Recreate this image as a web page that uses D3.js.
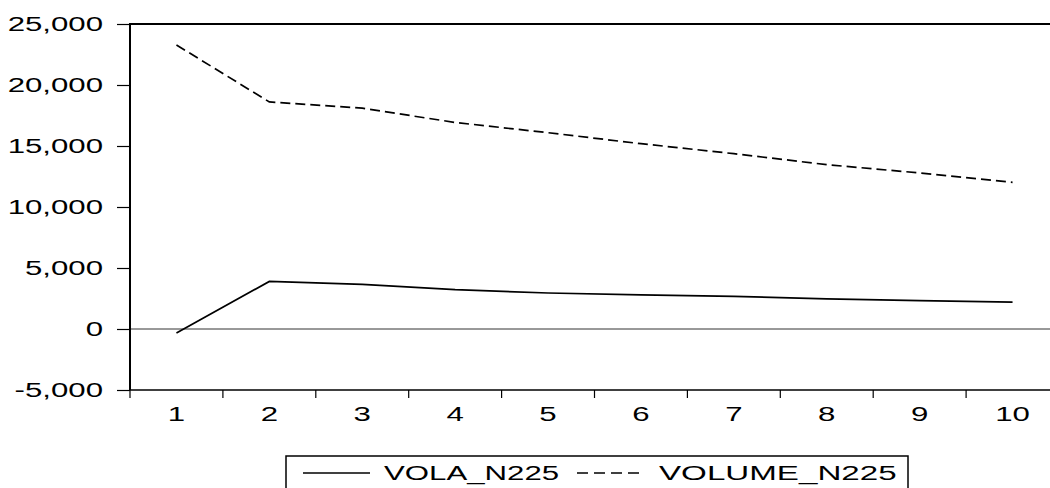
<!DOCTYPE html>
<html>
<head>
<meta charset="utf-8">
<script src="https://cdn.jsdelivr.net/npm/d3@7"></script>
<style>
  html, body { margin: 0; padding: 0; background: #fff; overflow: hidden; }
  svg { display: block; }
  text { font-family: "Liberation Sans", Arial, sans-serif; fill: #000; }
</style>
</head>
<body>
<svg id="chart" width="1050" height="488"></svg>
<script>
// Impulse-response horizons
const periods = [1, 2, 3, 4, 5, 6, 7, 8, 9, 10];
// Response series
const volaN225   = [-330, 3900, 3660, 3220, 2950, 2790, 2670, 2470, 2320, 2210];
const volumeN225 = [23280, 18610, 18100, 16930, 16090, 15190, 14370, 13470, 12790, 12020];
// Vertical axis ticks
const yTicks = [-5000, 0, 5000, 10000, 15000, 20000, 25000];
const seriesNames = ["VOLA_N225", "VOLUME_N225"];

const plot = { left: 130, top: 24, right: 1059, bottom: 390 };
const stretch = 1.6;      // wide lettering
const fontSize = 19.5;

const svg = d3.select("#chart");

const x = d3.scaleBand().domain(periods).range([plot.left, plot.right]).padding(0);
const y = d3.scaleLinear().domain([-5000, 25000]).range([plot.bottom, plot.top]);
// Thousands separator with a plain hyphen for negatives
const fmt = d3.formatLocale({ decimal: ".", thousands: ",", grouping: [3], currency: ["", ""], minus: "-" }).format(",");

// Zero reference line
svg.append("line")
  .attr("x1", plot.left).attr("x2", plot.right)
  .attr("y1", y(0)).attr("y2", y(0))
  .attr("stroke", "#333").attr("stroke-width", 1);

// Y axis
const yAxis = svg.append("g")
  .attr("transform", `translate(${plot.left},0)`)
  .call(d3.axisLeft(y).tickValues(yTicks).tickFormat(fmt).tickSize(13).tickPadding(14));
yAxis.select(".domain").remove();
yAxis.selectAll(".tick line").attr("stroke", "#000").attr("stroke-width", 1.2);
yAxis.selectAll(".tick text")
  .attr("font-size", fontSize)
  .attr("x", -27 / stretch)
  .attr("dy", "0.33em")
  .attr("transform", `scale(${stretch},1)`);

// X axis labels at category centres
const xAxis = svg.append("g")
  .attr("transform", `translate(0,${plot.bottom})`)
  .call(d3.axisBottom(x).tickSize(0).tickPadding(0));
xAxis.select(".domain").remove();
xAxis.selectAll(".tick text")
  .attr("font-size", fontSize)
  .attr("y", 31)
  .attr("dy", 0)
  .attr("transform", `scale(${stretch},1)`);

// X tick marks on category boundaries
svg.append("g").selectAll("line")
  .data(periods)
  .join("line")
  .attr("x1", d => x(d)).attr("x2", d => x(d))
  .attr("y1", plot.bottom).attr("y2", plot.bottom + 8)
  .attr("stroke", "#000").attr("stroke-width", 1.2);

// Frame: top, left, bottom
svg.append("line")
  .attr("x1", plot.left).attr("x2", plot.right)
  .attr("y1", plot.top).attr("y2", plot.top)
  .attr("stroke", "#000").attr("stroke-width", 2);
svg.append("line")
  .attr("x1", plot.left).attr("x2", plot.left)
  .attr("y1", plot.top - 1).attr("y2", plot.bottom)
  .attr("stroke", "#000").attr("stroke-width", 2);
svg.append("line")
  .attr("x1", plot.left).attr("x2", plot.right)
  .attr("y1", plot.bottom).attr("y2", plot.bottom)
  .attr("stroke", "#000").attr("stroke-width", 1.6);

// Series lines
const line = d3.line()
  .x((d, i) => x(periods[i]) + x.bandwidth() / 2)
  .y(d => y(d));

svg.append("path")
  .datum(volaN225)
  .attr("d", line)
  .attr("fill", "none").attr("stroke", "#000").attr("stroke-width", 1.7);

svg.append("path")
  .datum(volumeN225)
  .attr("d", line)
  .attr("fill", "none").attr("stroke", "#000").attr("stroke-width", 1.7)
  .attr("stroke-dasharray", "10,5");

// Legend
const legend = svg.append("g");
legend.append("rect")
  .attr("x", 286).attr("y", 456).attr("width", 622).attr("height", 60)
  .attr("fill", "none").attr("stroke", "#000").attr("stroke-width", 1.5);

const legendItems = [
  { name: seriesNames[0], x1: 303, x2: 370, tx: 384, sx: stretch, dash: null },
  { name: seriesNames[1], x1: 577, x2: 644, tx: 659, sx: 1.7, dash: "11,6" }
];
legendItems.forEach(it => {
  legend.append("line")
    .attr("x1", it.x1).attr("x2", it.x2)
    .attr("y1", 473).attr("y2", 473)
    .attr("stroke", "#000").attr("stroke-width", 1.5)
    .attr("stroke-dasharray", it.dash);
  legend.append("text")
    .attr("transform", `translate(${it.tx},479.5) scale(${it.sx},1)`)
    .attr("font-size", fontSize)
    .text(it.name);
});
</script>
</body>
</html>
